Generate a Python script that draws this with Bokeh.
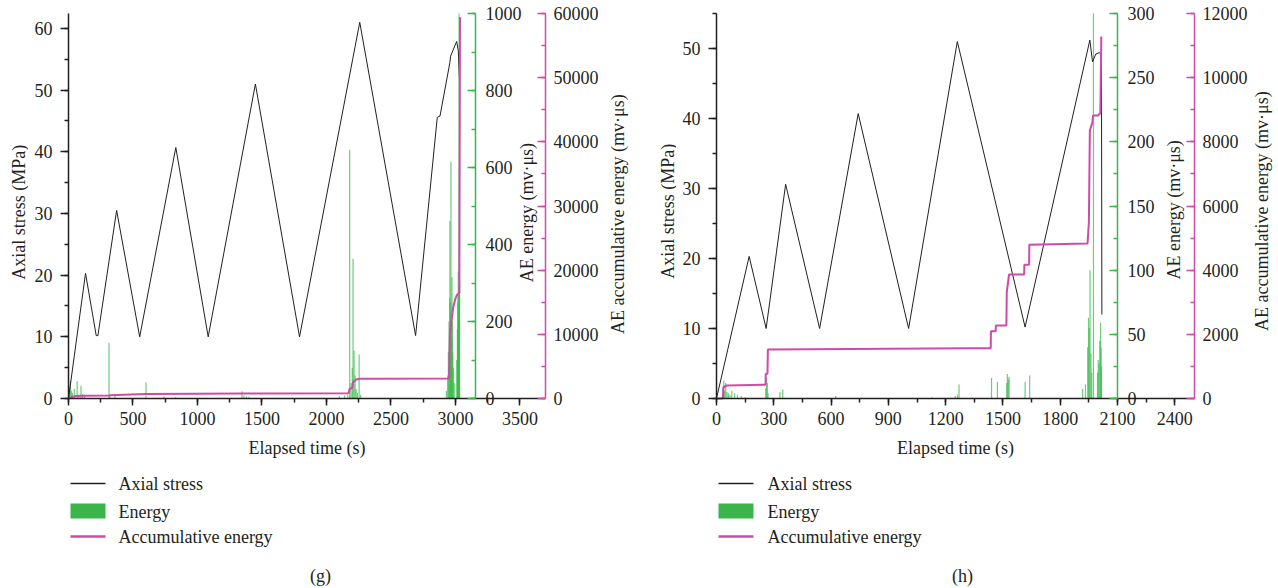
import numpy as np
from bokeh.plotting import figure
from bokeh.models import (Range1d, LinearAxis, SingleIntervalTicker, BasicTickFormatter, Label)
from bokeh.layouts import row, column
from bokeh.embed import file_html
from bokeh.resources import INLINE
from bokeh.core.properties import value

FONT = "Liberation Serif"
TXT = "#231f20"
GREEN = "#39b54a"
BARG = "#3dbb4f"
MAG = "#cf4aa9"

# ---------------- panel (g) data ----------------
stress_t_g = [0, 132, 215, 228, 373, 552, 832, 1083, 1449, 1791, 2258, 2691, 2859, 2880,
              2957, 2962, 3009, 3022, 3032]
stress_g = [0, 20.3, 10.2, 10.2, 30.5, 10, 40.7, 10, 51, 10, 61, 10.2, 45.6, 45.8,
            54.5, 55.5, 57.9, 56.4, 51.3]

energy_t_g = [8, 15, 22, 30, 45, 67, 80, 97, 110, 125, 314, 320, 360, 601, 740, 830,
              1345, 1360, 1380, 1400, 2100, 2140, 2165, 2180, 2190, 2200, 2206, 2214,
              2222, 2230, 2240, 2253, 2265,
              2930, 2940, 2945, 2950, 2955, 2957, 2960, 2963, 2965, 2968, 2970, 2973,
              2976, 2980, 2985, 2990, 3010, 3015, 3018, 3020, 3022, 3024, 3026, 3028,
              3030, 3032]
energy_g = [30, 46, 20, 15, 25, 45, 10, 33, 12, 8, 145, 10, 8, 42, 5, 4,
            19, 8, 6, 5, 6, 8, 10, 646, 40, 80, 363, 125,
            60, 25, 15, 114, 10,
            20, 60, 120, 200, 260, 462, 180, 250, 614, 220, 150, 315,
            200, 120, 80, 40, 100, 180, 250, 270, 330, 200, 280, 1000,
            600, 300]

cum_t_g = [0, 30, 60, 120, 314, 320, 600, 1345, 2170, 2180, 2200, 2206, 2230, 2260,
           2950, 2957, 2965, 2983, 2996, 3009, 3030, 3035]
cum_g = [0, 250, 380, 430, 470, 520, 700, 760, 800, 1500, 1700, 2540, 2960, 3070,
         3100, 10080, 11500, 14230, 15320, 16050, 16500, 59400]

# ---------------- panel (h) data ----------------
stress_t_h = [0, 171, 260, 362, 540, 742, 1006, 1261, 1616, 1955, 1969, 1986, 2004,
              2010, 2016, 2018]
stress_h = [0, 20.3, 10, 30.6, 10, 40.7, 10, 51, 10.2, 51.2, 48.1, 49.2, 49.4,
            49.3, 47.5, 12]

energy_t_h = [36, 38, 42, 48, 55, 62, 70, 80, 95, 110, 130, 150, 258, 262, 266, 270,
              332, 347, 624, 1130, 1250, 1262, 1270, 1440, 1471, 1520, 1523, 1528,
              1532, 1616, 1640, 1917, 1932, 1944, 1948, 1952, 1956, 1961, 1965, 1974,
              1995, 1999, 2003, 2007, 2011, 2014, 2016]
energy_h = [10, 14, 6, 12, 5, 4, 3, 6, 4, 3, 2, 1, 8, 16, 12, 4,
            5, 7, 2, 1, 2, 3, 11, 16, 13, 12, 19, 15,
            17, 13, 18, 7.5, 11, 40, 63, 55, 100, 35, 20, 300,
            20, 30, 27, 45, 59, 40, 25]

cum_t_h = [0, 33, 36, 45, 56, 257, 258, 267, 269, 1331, 1436, 1437, 1462, 1463, 1518,
           1520, 1532, 1611, 1612, 1637, 1638, 1943, 1950, 1955, 1968, 1972, 1998,
           2010, 2015]
cum_h = [0, 0, 340, 380, 405, 430, 770, 770, 1527, 1569, 1569, 2098, 2098, 2276, 2276,
         3314, 3865, 3865, 4167, 4167, 4790, 4830, 5500, 8354, 8600, 8822, 8822,
         8900, 11284]

legend_labels = ["Axial stress", "Energy", "Accumulative energy"]
y_title = "Axial stress (MPa)"
x_title = "Elapsed time (s)"
green_title = "AE energy (mv·μs)"
mag_title = "AE accumulative energy (mv·μs)"

# layout constants (pixels)
CH = 470          # chart figure height
TOP_PAD = 3       # canvas top -> frame top
AX_TOP = 13       # canvas y of the axes' top value
AX_BOT = 398      # canvas y of value 0
SPAN = AX_BOT - AX_TOP
XLAB_Y = 447      # canvas y of the x-axis title


def vrange(top):
    k = SPAN / top
    return Range1d(-(CH - AX_BOT) / k, top + (AX_TOP - TOP_PAD) / k)


def style_axis(ax, color=TXT):
    ax.axis_line_color = color
    ax.axis_line_width = 1.5
    ax.major_tick_line_color = color
    ax.major_tick_line_width = 1.5
    ax.minor_tick_line_color = color
    ax.minor_tick_line_width = 1.5
    ax.major_label_text_font = FONT
    ax.major_label_text_font_size = "18px"
    ax.major_label_text_color = TXT


def panel(width, pad_left, data_w, br, xend, xint, ymax, gmax, gint, cmax, cint, gx,
          st_t, st, en_t, en, cu_t, cu, g_off, g_lab_y):
    p = figure(width=width, height=CH, output_backend="svg", toolbar_location=None,
               x_range=Range1d(-pad_left * xend / data_w, xend), y_range=vrange(ymax),
               x_axis_type=None, y_axis_type=None,
               min_border_left=0, min_border_right=br, min_border_top=TOP_PAD,
               min_border_bottom=0)
    p.extra_y_ranges = {"green": vrange(gmax), "cum": vrange(cmax)}
    p.outline_line_color = None
    p.grid.visible = False
    p.background_fill_color = "white"
    p.border_fill_color = "white"

    xa = LinearAxis(fixed_location=0, bounds=(0, xend),
                    ticker=SingleIntervalTicker(interval=xint, num_minor_ticks=2))
    style_axis(xa)
    xa.major_tick_out = 7
    xa.major_tick_in = 0
    xa.minor_tick_out = 4
    xa.minor_tick_in = 0
    xa.major_label_standoff = 6
    p.add_layout(xa, "below")

    ya = LinearAxis(fixed_location=0, bounds=(0, ymax),
                    ticker=SingleIntervalTicker(interval=10, num_minor_ticks=2))
    style_axis(ya)
    ya.major_tick_out = 8
    ya.major_tick_in = 0
    ya.minor_tick_out = 4
    ya.minor_tick_in = 0
    ya.major_label_standoff = 8
    p.add_layout(ya, "left")

    ma = LinearAxis(y_range_name="cum", bounds=(0, cmax),
                    ticker=SingleIntervalTicker(interval=cint, num_minor_ticks=2),
                    formatter=BasicTickFormatter(use_scientific=False))
    style_axis(ma, MAG)
    ma.major_tick_in = 8
    ma.major_tick_out = 0
    ma.minor_tick_in = 4
    ma.minor_tick_out = 0
    ma.major_label_standoff = 8
    p.add_layout(ma, "right")

    ga = LinearAxis(y_range_name="green", fixed_location=gx, bounds=(0, gmax),
                    ticker=SingleIntervalTicker(interval=gint, num_minor_ticks=2))
    style_axis(ga, GREEN)
    ga.major_tick_in = 8
    ga.major_tick_out = 0
    ga.minor_tick_in = 4
    ga.minor_tick_out = 0
    ga.major_label_standoff = 10
    p.add_layout(ga, "right")

    p.add_layout(Label(x=gx, y=g_lab_y, x_offset=g_off, y_range_name="green",
                       text=green_title, angle=np.pi / 2,
                       text_align="center", text_baseline="middle",
                       text_font=FONT, text_font_size="18px", text_color=TXT))
    p.add_layout(Label(x=xend / 2, y=-(XLAB_Y - AX_BOT) * ymax / SPAN,
                       text=x_title, text_align="center", text_baseline="middle",
                       text_font=FONT, text_font_size="18px", text_color=TXT))

    # energy bars
    p.segment(x0=en_t, y0=[0] * len(en_t), x1=en_t, y1=en, y_range_name="green",
              line_color=BARG, line_width=1.2, line_alpha=0.75)
    # stress
    p.line(st_t, st, line_color=TXT, line_width=1)
    # accumulative
    p.line(cu_t, cu, y_range_name="cum", line_color=MAG, line_width=2)
    return p


def vlabel_fig(width, cx, cy, text):
    f = figure(width=width, height=CH, output_backend="svg", toolbar_location=None,
               x_range=Range1d(0, width), y_range=Range1d(0, CH),
               min_border=0, min_border_left=0, min_border_right=0,
               min_border_top=0, min_border_bottom=0,
               x_axis_type=None, y_axis_type=None)
    f.outline_line_color = None
    f.grid.visible = False
    f.background_fill_color = "white"
    f.border_fill_color = "white"
    f.text(x=[cx], y=[CH - cy], text=[text], angle=np.pi / 2,
           text_font=value(FONT), text_font_size=value("18px"),
           text_baseline="middle", text_align="center", text_color=TXT)
    return f


def legend_fig(width, sw_left, txt_left, tag_x, tag):
    H = 588 - CH
    f = figure(width=width, height=H, output_backend="svg", toolbar_location=None,
               x_range=Range1d(0, width), y_range=Range1d(H, 0),
               min_border=0, min_border_left=0, min_border_right=0,
               min_border_top=0, min_border_bottom=0,
               x_axis_type=None, y_axis_type=None)
    f.outline_line_color = None
    f.grid.visible = False
    f.background_fill_color = "white"
    f.border_fill_color = "white"
    f.segment(x0=[sw_left], y0=[13], x1=[sw_left + 35], y1=[13],
              line_color=TXT, line_width=1.3)
    f.quad(left=[sw_left], right=[sw_left + 35], top=[33], bottom=[48],
           fill_color=GREEN, line_color=None)
    f.segment(x0=[sw_left], y0=[66], x1=[sw_left + 35], y1=[66],
              line_color=MAG, line_width=2.5)
    f.text(x=[txt_left] * 3, y=[13, 41, 66], text=legend_labels,
           text_font=value(FONT), text_font_size=value("18px"),
           text_baseline="middle", text_align="left", text_color=TXT)
    f.text(x=[tag_x], y=[105], text=[tag], text_font=value(FONT),
           text_font_size=value("18px"), text_baseline="middle",
           text_align="center", text_color=TXT)
    return f


# panel (g): canvas x 0..640 -> [28 label][577 chart][35 label]
p1 = panel(577, 40, 477, 60, 3698, 500, 62.43, 1000, 200, 60000, 10000, 3155,
           stress_t_g, stress_g, energy_t_g, energy_g, cum_t_g, cum_g, 52, 483)
a1 = vlabel_fig(28, 18, 210, y_title)
b1 = vlabel_fig(35, 12, 212, mag_title)
l1 = legend_fig(640, 70, 118, 320, "(g)")

# panel (h): canvas x 640..1278 -> [36 label][574 chart][28 label]
p2 = panel(574, 40, 478, 56, 2503, 300, 55, 300, 50, 12000, 2000, 2100,
           stress_t_h, stress_h, energy_t_h, energy_h, cum_t_h, cum_h, 56, 147)
a2 = vlabel_fig(36, 27, 209, y_title)
b2 = vlabel_fig(28, 11, 209, mag_title)
l2 = legend_fig(638, 78, 127, 322, "(h)")

layout = row(column(row(a1, p1, b1), l1), column(row(a2, p2, b2), l2))
open("out.html", "w").write(file_html(layout, INLINE))
